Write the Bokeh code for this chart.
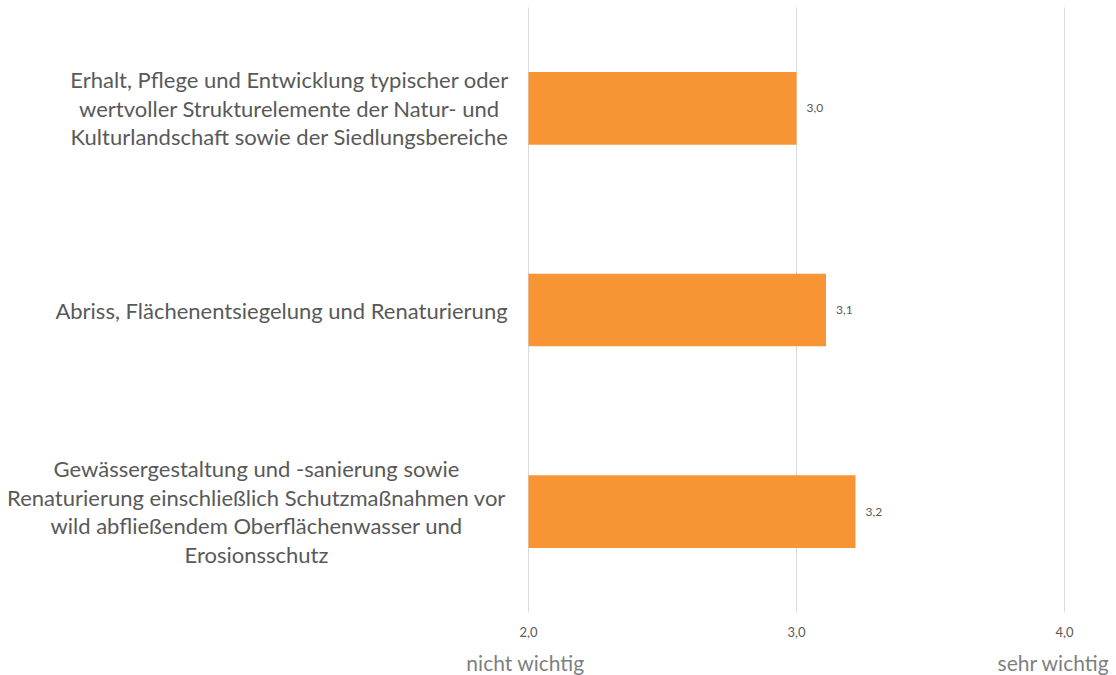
from bokeh.plotting import figure
from bokeh.models import Range1d, ColumnDataSource
from bokeh.core.properties import value
from bokeh.embed import file_html
from bokeh.resources import INLINE

categories = [
    "Erhalt, Pflege und Entwicklung typischer oder\nwertvoller Strukturelemente der Natur- und\nKulturlandschaft sowie der Siedlungsbereiche",
    "Abriss, Flächenentsiegelung und Renaturierung",
    "Gewässergestaltung und -sanierung sowie\nRenaturierung einschließlich Schutzmaßnahmen vor\nwild abfließendem Oberflächenwasser und\nErosionsschutz",
]
values = [3.0, 3.11, 3.22]
value_labels = ["3,0", "3,1", "3,2"]
x_ticks = [2, 3, 4]
x_tick_labels = ["2,0", "3,0", "4,0"]
scale_labels = ["nicht wichtig", "sehr wichtig"]

FONT = "Lato"
TEXT = "#595959"
BAR = "#F79433"
GRID = "#D9D9D9"

# layout (pixels on the canvas)
W, H = 1110, 675
LEFT_PX, RIGHT_PX, TOP_PX, BOTTOM_PX = 528, 1064, 7, 612

n = len(categories)
ys = [n - 0.5 - i for i in range(n)]
x0, x1 = x_ticks[0], x_ticks[-1]
ppx = (RIGHT_PX - LEFT_PX) / (x1 - x0)
ppy = (BOTTOM_PX - TOP_PX) / n
x_range = Range1d(x0 - LEFT_PX / ppx, x1 + (W - RIGHT_PX) / ppx)
y_range = Range1d(-(H - BOTTOM_PX) / ppy, n + TOP_PX / ppy)

p = figure(width=W, height=H, x_range=x_range, y_range=y_range,
           output_backend="svg", toolbar_location=None,
           min_border=0, min_border_left=0, min_border_right=0,
           min_border_top=0, min_border_bottom=0)
p.outline_line_color = None
p.axis.visible = False
p.grid.visible = False
p.background_fill_color = "white"

# gridlines
p.segment(x0=x_ticks, y0=[0] * len(x_ticks), x1=x_ticks, y1=[n] * len(x_ticks),
          line_color=GRID, line_width=1)

src = ColumnDataSource(dict(y=ys, v=values, lab=value_labels, left=[x0] * n))
p.hbar(y="y", left="left", right="v", height=0.36, source=src, fill_color=BAR, line_color=None)
p.text(x="v", y="y", text="lab", source=src, x_offset=10, text_baseline="middle",
       text_align="left", text_font=value(FONT), text_font_size="12px", text_color=TEXT)

# tick labels
p.text(x=x_ticks, y=[0] * len(x_ticks), text=x_tick_labels, y_offset=19,
       text_align="center", text_baseline="middle", text_font=value(FONT),
       text_font_size="13px", text_color=TEXT)

# scale labels
p.text(x=[x0, x1], y=[0, 0], text=scale_labels, x_offset=[-3, -11], y_offset=50,
       text_align="center", text_baseline="middle", text_font=value(FONT),
       text_font_size="21px", text_color="#7F7F7F")

# category labels
p.text(x=[x0] * n, y=ys, text=categories, x_offset=[-239, -247, -272],
       text_align="center", text_baseline="middle", text_font=value(FONT),
       text_font_size="22px", text_color=TEXT, text_line_height=1.06)

open("out.html", "w").write(file_html(p, INLINE))
